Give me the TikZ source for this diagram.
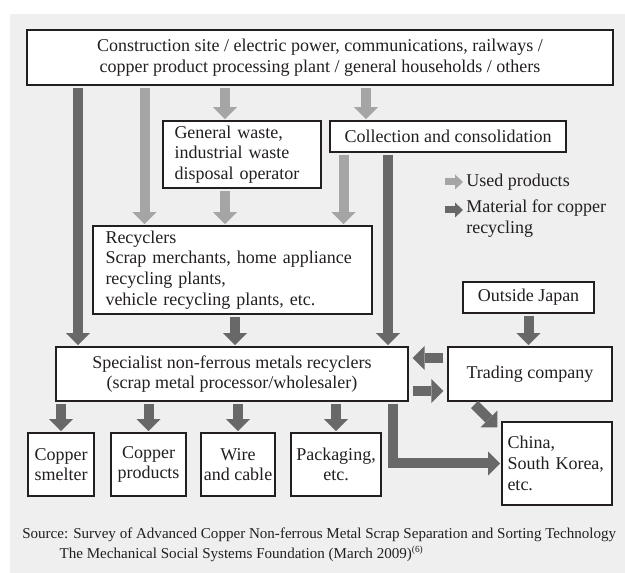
\documentclass[tikz,border=0pt]{standalone}
\usepackage{fontspec}
\setmainfont{Liberation Serif}
\usetikzlibrary{arrows.meta,calc}
\definecolor{bgcol}{RGB}{239,239,239}
\definecolor{boxline}{RGB}{35,31,32}
\definecolor{darkgrey}{RGB}{104,104,104}
\definecolor{lightgrey}{RGB}{165,165,165}
\tikzstyle{box} = [draw=boxline,line width=0.8pt,fill=white,inner sep=0.5pt]
\tikzstyle{darkflow} = [color=darkgrey,line width=7.5pt,-{Triangle[width=18pt,length=9pt,line width=0pt]},shorten <=1.5pt,shorten >=1pt]
\tikzstyle{lightflow} = [darkflow,color=lightgrey]
\tikzstyle{sideflow} = [darkflow,shorten <=3pt,shorten >=3pt]
\tikzstyle{lightkey} = [color=lightgrey,line width=5.25pt,-{Triangle[width=11.25pt,length=6pt,line width=0pt]}]
\tikzstyle{darkkey} = [lightkey,color=darkgrey]

\begin{document}
\begin{tikzpicture}[x=0.75pt,y=0.75pt,yscale=-1,xscale=1,text=boxline,font=\fontsize{13.5}{15.5}\selectfont]
\useasboundingbox (0,0) rectangle (625,573);
%Shape: Background
\fill[bgcol] (10,14) rectangle (625,573);

% Boxes
\node (top) [box,align=center,minimum width=439.5pt,minimum height=41.25pt] at (320,57.5) {Construction site / electric power, communications, railways /\\copper product processing plant / general households / others};
\node (gw) [box,align=left,text width=101.25pt,inner xsep=8.625pt,minimum height=50.25pt] at (242,154.5) {General waste,\\industrial waste\\disposal operator};
\node (coll) [box,minimum width=177pt,minimum height=23.25pt] at (448,136.5) {Collection and consolidation};
\node (rec) [box,align=left,text width=190.5pt,inner xsep=9.375pt,minimum height=66pt] at (232.5,270) {Recyclers\\Scrap merchants, home appliance\\recycling plants,\\vehicle recycling plants, etc.};
\node (spec) [box,align=center,minimum width=264pt,minimum height=40.5pt] at (232,374) {Specialist non-ferrous metals recyclers\\(scrap metal processor/wholesaler)};
\node (outj) [box,minimum width=98.25pt,minimum height=23.25pt] at (528.5,297.5) {Outside Japan};
\node (trade) [box,minimum width=123pt,minimum height=40.5pt] at (530,374) {Trading company};
\node (smelt) [box,align=center,minimum width=49.5pt,minimum height=47.25pt] at (61,464.5) {Copper\\smelter};
\node (prod) [box,align=center,minimum width=56.25pt,minimum height=47.25pt] at (148.5,464.5) {Copper\\products};
\node (wire) [box,align=center,minimum width=55.5pt,minimum height=47.25pt] at (238,464.5) {Wire\\and cable};
\node (pack) [box,align=center,minimum width=67.5pt,minimum height=47.25pt] at (336,464.5) {Packaging,\\etc.};
\node (china) [box,align=left,text width=74.25pt,inner xsep=4.125pt,minimum height=62.25pt] at (557,463.5) {China,\\South Korea,\\etc.};

% Legend
\node (used) [anchor=west,inner sep=0pt] at (466,182) {Used products};
\node (mat) [anchor=north west,align=left,inner sep=0pt] at (466,200) {Material for copper\\recycling};
\draw[lightkey] ($(used.west)+(-21,0)$) -- ($(used.west)+(-3,0)$);
\draw[darkkey] ($(mat.north west)+(-21,10)$) -- ($(mat.north west)+(-3,10)$);

% Flows from the sources
\draw[darkflow] (top.south -| 78,0) -- (spec.north -| 78,0);
\draw[lightflow] (top.south -| 144.5,0) -- (rec.north -| 144.5,0);
\draw[lightflow] (top.south -| 225,0) -- (gw.north -| 225,0);
\draw[lightflow] (top.south -| 366,0) -- (coll.north -| 366,0);
\draw[lightflow] (gw.south -| 225,0) -- (rec.north -| 225,0);
\draw[lightflow] (coll.south -| 343.5,0) -- (rec.north -| 343.5,0);
\draw[darkflow] (coll.south -| 388,0) -- (spec.north -| 388,0);
\draw[darkflow] (rec.south -| 235,0) -- (spec.north -| 235,0);
\draw[darkflow] (outj.south) -- (outj.south |- trade.north);

% Trading
\draw[sideflow] ($(trade.west)+(0,-16)$) -- ($(spec.east)+(0,-16)$);
\draw[sideflow] ($(spec.east)+(0,17)$) -- ($(trade.west)+(0,17)$);

% Outputs
\foreach \b in {smelt,prod,wire,pack}
  \draw[darkflow] (spec.south -| \b.north) -- (\b.north);
\draw[darkflow] (spec.south -| 393,0) |- (china.west);
\draw[darkflow,shorten <=0pt,shorten >=0pt] ($(trade.south west)+(27,3)$) -- ($(china.north west)+(-4,6)$);

% Text Node
\node (src) [anchor=north west,align=left,inner sep=0pt,font=\fontsize{11.3}{14.5}\selectfont] at (22,528) {Source: Survey of Advanced Copper Non-ferrous Metal Scrap Separation and Sorting Technology\\\hspace*{28pt}The Mechanical Social Systems Foundation (March 2009)\textsuperscript{\scriptsize(6)}};
\end{tikzpicture}
\end{document}
